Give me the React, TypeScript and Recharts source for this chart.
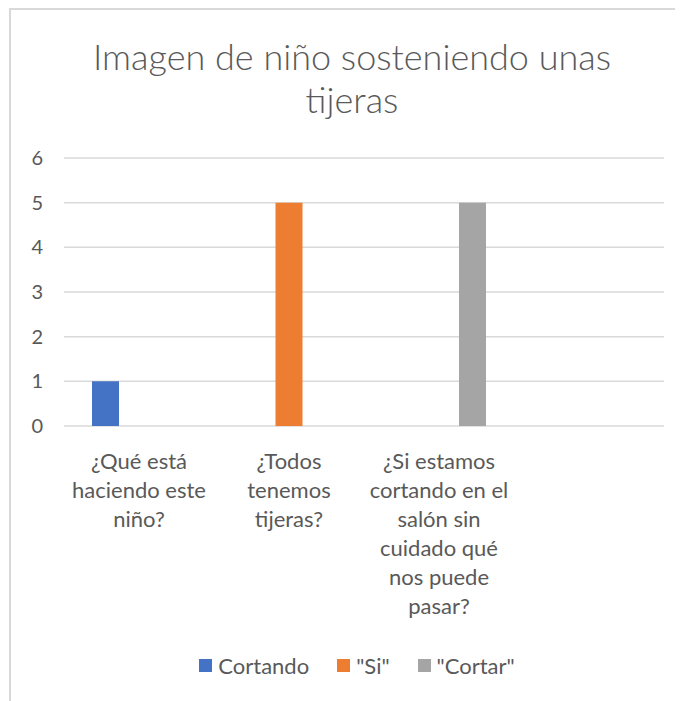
import { BarChart, Bar, XAxis, YAxis, CartesianGrid, Legend } from "recharts";

const categories = [
  "¿Qué está\nhaciendo este\nniño?",
  "¿Todos\ntenemos\ntijeras?",
  "¿Si estamos\ncortando en el\nsalón sin\ncuidado qué\nnos puede\npasar?",
  "",
];
const cortando = [1, null, null, null];
const si = [null, 5, null, null];
const cortar = [null, null, 5, null];
const yTicks = [0, 1, 2, 3, 4, 5, 6];

const series = [
  { key: "cortando", name: "Cortando", color: "#4472C4" },
  { key: "si", name: '"Si"', color: "#ED7D31" },
  { key: "cortar", name: '"Cortar"', color: "#A5A5A5" },
];

const data = categories.map((category, i) => ({
  category,
  cortando: cortando[i],
  si: si[i],
  cortar: cortar[i],
}));

const FONT = "Lato, 'Open Sans', sans-serif";
const TEXT = "#595959";

function CategoryTick(props: any) {
  const { x, y, payload } = props;
  const lines = String(payload.value).split("\n");
  return (
    <text x={x} y={y + 43} textAnchor="middle" fill={TEXT} fontSize={22} fontFamily={FONT}>
      {lines.map((line, i) => (
        <tspan key={i} x={x} dy={i === 0 ? 0 : 29}>
          {line}
        </tspan>
      ))}
    </text>
  );
}

function LegendContent() {
  return (
    <div
      style={{
        display: "flex",
        justifyContent: "center",
        alignItems: "center",
        height: 30,
        paddingLeft: 42,
        fontFamily: FONT,
        fontSize: 22,
        color: TEXT,
      }}
    >
      {series.map((s) => (
        <div key={s.key} style={{ display: "flex", alignItems: "center", margin: "0 14px" }}>
          <span style={{ width: 13, height: 13, background: s.color, marginRight: 6, display: "inline-block" }} />
          <span>{s.name}</span>
        </div>
      ))}
    </div>
  );
}

export default function App() {
  return (
    <div style={{ position: "relative", width: 675, height: 693, overflow: "hidden", background: "#fff" }}>
      <div
        style={{
          position: "absolute",
          left: 1,
          top: 0,
          width: 700,
          height: 720,
          borderLeft: "2px solid #d9d9d9",
          borderTop: "2px solid #d9d9d9",
        }}
      />
      <div
        style={{
          position: "absolute",
          left: 0,
          top: 27,
          width: 688,
          textAlign: "center",
          fontFamily: FONT,
          fontSize: 36,
          fontWeight: 300,
          lineHeight: "43px",
          color: TEXT,
        }}
      >
        Imagen de niño sosteniendo unas
        <br />
        tijeras
      </div>
      <div style={{ position: "absolute", left: 0, top: 0 }}>
        <BarChart
          width={675}
          height={693}
          data={data}
          margin={{ top: 150, right: 19, bottom: 21, left: 0 }}
          barSize={27}
          barGap={6.5}
        >
          <CartesianGrid vertical={false} stroke="#d9d9d9" strokeWidth={1.5} />
          <XAxis
            dataKey="category"
            axisLine={false}
            tickLine={false}
            tickSize={0}
            tickMargin={0}
            height={224}
            interval={0}
            tick={<CategoryTick />}
          />
          <YAxis
            domain={[0, 6]}
            ticks={yTicks}
            axisLine={false}
            tickLine={false}
            tickSize={0}
            tickMargin={21}
            width={56}
            tick={{ fill: TEXT, fontSize: 20, fontFamily: FONT }}
          />
          {series.map((s) => (
            <Bar key={s.key} dataKey={s.key} name={s.name} fill={s.color} isAnimationActive={false} />
          ))}
          <Legend verticalAlign="bottom" wrapperStyle={{ height: 30 }} content={<LegendContent />} />
        </BarChart>
      </div>
    </div>
  );
}
